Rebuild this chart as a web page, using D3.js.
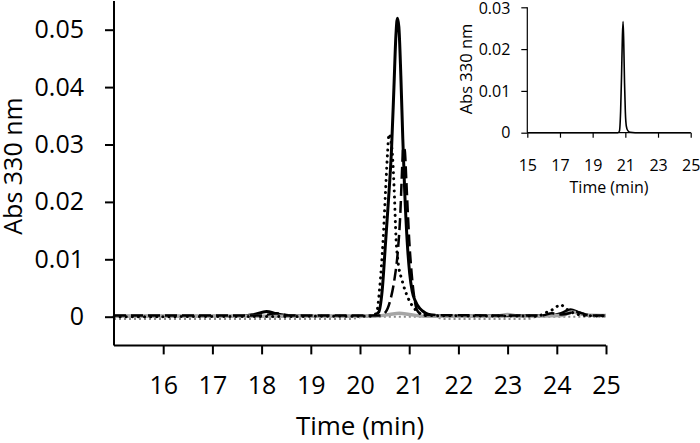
<!DOCTYPE html>
<html>
<head>
<meta charset="utf-8">
<script src="https://cdn.jsdelivr.net/npm/d3@7"></script>
<style>
  body { margin: 0; background: #fff; }
  svg text { font-family: "Open Sans", "DejaVu Sans", sans-serif; fill: #000; }
</style>
</head>
<body>
<svg id="chart" width="700" height="443"></svg>
<script>
// main panel ticks / labels
const mainXTicks = [16, 17, 18, 19, 20, 21, 22, 23, 24, 25];
const mainYTicks = [0, 0.01, 0.02, 0.03, 0.04, 0.05];
const insetXTicks = [15, 17, 19, 21, 23, 25];
const insetYTicks = [0, 0.01, 0.02, 0.03];

// traces: [time (min), absorbance]
const solidTrace = [
  [15, 0.0001], [17.6, 0.0001], [17.85, 0.0004], [18.1, 0.0009], [18.3, 0.0005], [18.55, 0.0002],
  [19, 0.0001], [20.25, 0.0001], [20.38, 0.0008], [20.45, 0.0045], [20.52, 0.0130], [20.58, 0.0205],
  [20.64, 0.0290], [20.69, 0.0400], [20.73, 0.0490], [20.76, 0.0520], [20.79, 0.0505], [20.83, 0.0420],
  [20.87, 0.0310], [20.91, 0.0215], [20.96, 0.0130], [21.01, 0.0075], [21.06, 0.0045], [21.12, 0.0028],
  [21.22, 0.0014], [21.32, 0.0007], [21.45, 0.0003], [21.7, 0.0001], [23.9, 0.0002], [24.1, 0.0006],
  [24.28, 0.0012], [24.45, 0.0007], [24.65, 0.0002], [25, 0.0002]
];
const dottedTrace = [
  [15, 0], [20.25, 0.0001], [20.34, 0.0008], [20.40, 0.0050], [20.47, 0.0134], [20.52, 0.0220],
  [20.56, 0.0285], [20.59, 0.0318], [20.62, 0.0310], [20.66, 0.0280], [20.70, 0.0210], [20.73, 0.0140],
  [20.77, 0.0098], [20.86, 0.0062], [20.97, 0.0034], [21.08, 0.0017], [21.18, 0.0008], [21.35, 0.0002],
  [23.6, 0.0001], [23.8, 0.0008], [23.95, 0.0014], [24.07, 0.0021], [24.2, 0.0013], [24.35, 0.0006],
  [24.6, 0.0002], [25, 0.0001]
];
const dashTrace = [
  [15, 0.0002], [18.0, 0.0002], [18.3, 0.0006], [18.55, 0.0002], [20.4, 0.0002], [20.52, 0.0008],
  [20.62, 0.0030], [20.70, 0.0065], [20.77, 0.0115], [20.82, 0.0180], [20.85, 0.0245], [20.88, 0.0295],
  [20.91, 0.0290], [20.94, 0.0240], [20.97, 0.0185], [21.00, 0.0134], [21.05, 0.0075], [21.10, 0.0035],
  [21.17, 0.0010], [21.28, 0.0003], [23.7, 0.0002], [23.9, 0.0006], [24.1, 0.0004], [24.4, 0.0008],
  [24.7, 0.0002], [25, 0.0002]
];
const grayTrace = [
  [15, 0.0001], [20.3, 0.0001], [20.6, 0.0004], [20.8, 0.0006], [21.0, 0.0004], [21.3, 0.0001],
  [22.8, 0.0001], [23.0, 0.0004], [23.2, 0.0001], [24.1, 0.0002], [24.3, 0.0008], [24.6, 0.0003],
  [25, 0.0002]
];
const grayDotTrace = [
  [15, -0.0004], [19.8, -0.0004], [20.1, 0], [21.5, 0], [21.7, -0.0004], [23.4, -0.0004],
  [23.6, 0], [25, 0]
];
const insetTrace = [
  [15, 0], [20.55, 0], [20.64, 0.0004], [20.71, 0.0050], [20.77, 0.0140], [20.82, 0.0230],
  [20.86, 0.0266], [20.90, 0.0220], [20.95, 0.0120], [21.00, 0.0050], [21.06, 0.0016],
  [21.15, 0.0005], [21.3, 0.0001], [21.6, 0], [25, 0]
];

const svg = d3.select("#chart");

// ---- main panel ----
const x = d3.scaleLinear().domain([15, 25]).range([114, 606]);
const y = d3.scaleLinear().domain([-0.005, 0.055]).range([345.4, 1]);

const line = d3.line()
  .x(d => x(d[0]))
  .y(d => y(d[1]))
  .curve(d3.curveMonotoneX);

const main = svg.append("g");

main.append("path").datum(grayDotTrace)
  .attr("d", line).attr("fill", "none")
  .attr("stroke", "#8a8a8a").attr("stroke-width", 2)
  .attr("stroke-dasharray", "2,3");

main.append("path").datum(solidTrace)
  .attr("d", line).attr("fill", "none")
  .attr("stroke", "#000").attr("stroke-width", 3);

main.append("path").datum(grayTrace)
  .attr("d", line).attr("fill", "none")
  .attr("stroke", "#a6a6a6").attr("stroke-width", 3.5);

main.append("path").datum(dashTrace)
  .attr("d", line).attr("fill", "none")
  .attr("stroke", "#000").attr("stroke-width", 2.5)
  .attr("stroke-dasharray", "12,5");

main.append("path").datum(dottedTrace)
  .attr("d", line).attr("fill", "none")
  .attr("stroke", "#000").attr("stroke-width", 3)
  .attr("stroke-linecap", "round")
  .attr("stroke-dasharray", "0.1,6");

// axes
const xAxis = main.append("g")
  .attr("transform", `translate(0,${y(-0.005)})`)
  .call(d3.axisBottom(x).tickValues(mainXTicks).tickSize(9).tickPadding(22).tickFormat(d3.format("d")));
const yAxis = main.append("g")
  .attr("transform", `translate(${x(15)},0)`)
  .call(d3.axisLeft(y).tickValues(mainYTicks).tickSize(9).tickPadding(21)
    .tickFormat(d => d === 0 ? "0" : d3.format(".2f")(d)));

[xAxis, yAxis].forEach(a => {
  a.select(".domain").attr("stroke", "#000").attr("stroke-width", 2);
  a.selectAll(".tick line").attr("stroke", "#000").attr("stroke-width", 2);
  a.selectAll(".tick text").attr("font-size", 25).attr("font-family", "Open Sans").attr("fill", "#000");
});
// outer tick stubs at the ends aren't drawn in the original
xAxis.select(".domain").attr("d", `M${x(15)},0H${x(25)}`);
yAxis.select(".domain").attr("d", `M0,${y(-0.005)}V${y(0.055)}`);

main.append("text")
  .attr("x", (x(15) + x(25)) / 2)
  .attr("y", 435)
  .attr("text-anchor", "middle")
  .attr("font-size", 26)
  .text("Time (min)");

main.append("text")
  .attr("transform", "translate(13,166) rotate(-90)")
  .attr("dy", "0.35em")
  .attr("text-anchor", "middle")
  .attr("font-size", 25)
  .text("Abs 330 nm");

// ---- inset ----
const ix = d3.scaleLinear().domain([15, 25]).range([527.3, 690.7]);
const iy = d3.scaleLinear().domain([0, 0.03]).range([132.7, 7.3]);

const iline = d3.line()
  .x(d => ix(d[0]))
  .y(d => iy(d[1]))
  .curve(d3.curveMonotoneX);

const inset = svg.append("g");

inset.append("path").datum(insetTrace)
  .attr("d", iline).attr("fill", "none")
  .attr("stroke", "#000").attr("stroke-width", 1.6);

const ixAxis = inset.append("g")
  .attr("transform", `translate(0,${iy(0)})`)
  .call(d3.axisBottom(ix).tickValues(insetXTicks).tickSize(5).tickPadding(22).tickFormat(d3.format("d")));
const iyAxis = inset.append("g")
  .attr("transform", `translate(${ix(15)},0)`)
  .call(d3.axisLeft(iy).tickValues(insetYTicks).tickSize(6).tickPadding(11)
    .tickFormat(d => d === 0 ? "0" : d3.format(".2f")(d)));

[ixAxis, iyAxis].forEach(a => {
  a.select(".domain").attr("stroke", "#000").attr("stroke-width", 1.2);
  a.selectAll(".tick line").attr("stroke", "#000").attr("stroke-width", 1.2);
  a.selectAll(".tick text").attr("font-size", 16).attr("font-family", "Open Sans").attr("fill", "#000");
});
ixAxis.select(".domain").attr("d", `M${ix(15)},0H${ix(25)}`);
iyAxis.select(".domain").attr("d", `M0,${iy(0)}V${iy(0.03)}`);
// keep the top label inside the frame
iyAxis.selectAll(".tick text").filter(d => d === 0.03).attr("dy", "0.4em");

inset.append("text")
  .attr("x", (ix(15) + ix(25)) / 2)
  .attr("y", 193)
  .attr("text-anchor", "middle")
  .attr("font-size", 16)
  .text("Time (min)");

inset.append("text")
  .attr("transform", "translate(466,69) rotate(-90)")
  .attr("dy", "0.35em")
  .attr("text-anchor", "middle")
  .attr("font-size", 16.5)
  .text("Abs 330 nm");
</script>
</body>
</html>
